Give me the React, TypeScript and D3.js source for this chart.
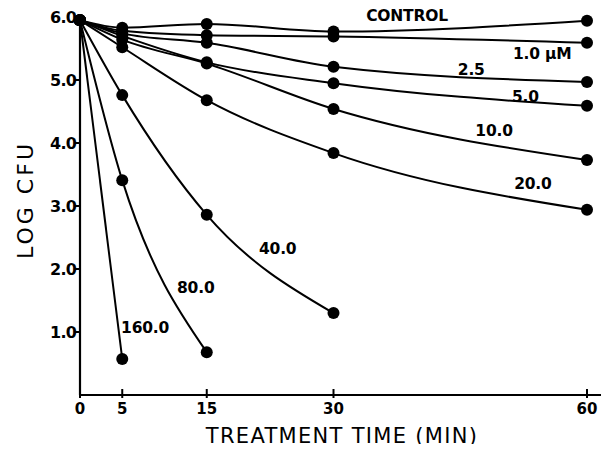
import React, { useEffect, useRef } from "react";
import * as d3 from "d3";

// treatment times (min) and log CFU per concentration
const times = [0, 5, 15, 30, 60];
const control = [5.95, 5.83, 5.89, 5.77, 5.94];
const conc1 = [5.95, 5.78, 5.71, 5.69, 5.59];
const conc2_5 = [5.95, 5.74, 5.59, 5.21, 4.97];
const conc5 = [5.95, 5.70, 5.28, 4.95, 4.59];
const conc10 = [5.95, 5.64, 5.26, 4.54, 3.73];
const conc20 = [5.95, 5.52, 4.68, 3.84, 2.94];
const conc40 = [5.95, 4.76, 2.86, 1.3];
const conc80 = [5.95, 3.41, 0.68];
const conc160 = [5.95, 0.57];

const seriesNames = ["CONTROL", "1.0 \u03BCM", "2.5", "5.0", "10.0", "20.0", "40.0", "80.0", "160.0"];
const seriesValues = [control, conc1, conc2_5, conc5, conc10, conc20, conc40, conc80, conc160];

const xTicks = [0, 5, 15, 30, 60];
const yTicks = [1, 2, 3, 4, 5, 6];

// label anchor in data units: [time, logCFU]
const labelPos: [number, number][] = [
  [38.7, 5.95], [54.7, 5.35], [46.3, 5.1], [52.7, 4.67], [49, 4.13], [53.6, 3.29], [23.4, 2.25], [13.7, 1.63], [7.7, 1.0],
];

const App = () => {
  const ref = useRef<SVGSVGElement>(null);

  useEffect(() => {
    const svg = d3.select(ref.current);
    svg.selectAll("*").remove();

    const x = d3.scaleLinear().domain([0, 60]).range([80, 587]);
    const y = d3.scaleLinear().domain([0, 6]).range([395, 17]);
    const font = "'DejaVu Sans', Verdana, sans-serif";

    // axes
    svg.append("line").attr("x1", 80).attr("x2", 607).attr("y1", 395).attr("y2", 395)
      .attr("stroke", "#000").attr("stroke-width", 2.2);
    svg.append("line").attr("x1", 80).attr("x2", 80).attr("y1", 395).attr("y2", y(6))
      .attr("stroke", "#000").attr("stroke-width", 2.2);

    xTicks.forEach(t => {
      svg.append("line").attr("x1", x(t)).attr("x2", x(t)).attr("y1", 389).attr("y2", 398)
        .attr("stroke", "#000").attr("stroke-width", 2);
      svg.append("text").attr("x", x(t)).attr("y", 414).attr("text-anchor", "middle")
        .attr("font-family", font).attr("font-weight", "bold").attr("font-size", 15)
        .text(t);
    });

    yTicks.forEach(v => {
      svg.append("line").attr("x1", 74).attr("x2", 80).attr("y1", y(v)).attr("y2", y(v))
        .attr("stroke", "#000").attr("stroke-width", 2);
      svg.append("text").attr("x", 76).attr("y", y(v) + 5.5).attr("text-anchor", "end")
        .attr("font-family", font).attr("font-weight", "bold").attr("font-size", 16)
        .attr("letter-spacing", -0.8)
        .text(v.toFixed(1));
    });

    svg.append("text").attr("x", 342).attr("y", 443).attr("text-anchor", "middle")
      .attr("font-family", font).attr("font-size", 21).attr("letter-spacing", 1.3)
      .text("TREATMENT TIME (MIN)");

    svg.append("text").attr("transform", "translate(33,200) rotate(-90)").attr("text-anchor", "middle")
      .attr("font-family", font).attr("font-size", 22).attr("letter-spacing", 3)
      .text("LOG CFU");

    const line = d3.line<[number, number]>()
      .x(d => x(d[0])).y(d => y(d[1]))
      .curve(d3.curveMonotoneX);

    seriesValues.forEach((vals, i) => {
      const pts: [number, number][] = vals.map((v, j) => [times[j], v]);
      svg.append("path").attr("d", line(pts)).attr("fill", "none")
        .attr("stroke", "#000").attr("stroke-width", 2);
      svg.selectAll(null).data(pts).enter().append("circle")
        .attr("cx", d => x(d[0])).attr("cy", d => y(d[1])).attr("r", 6)
        .attr("fill", "#000");
      svg.append("text").attr("x", x(labelPos[i][0])).attr("y", y(labelPos[i][1]) + 1)
        .attr("text-anchor", "middle").attr("font-family", font).attr("font-weight", "bold")
        .attr("font-size", 15.5).attr("letter-spacing", -0.2).text(seriesNames[i]);
    });
  }, []);

  return <svg ref={ref} width={609} height={452} style={{ display: "block", margin: "-8px" }} />;
};

export default App;
